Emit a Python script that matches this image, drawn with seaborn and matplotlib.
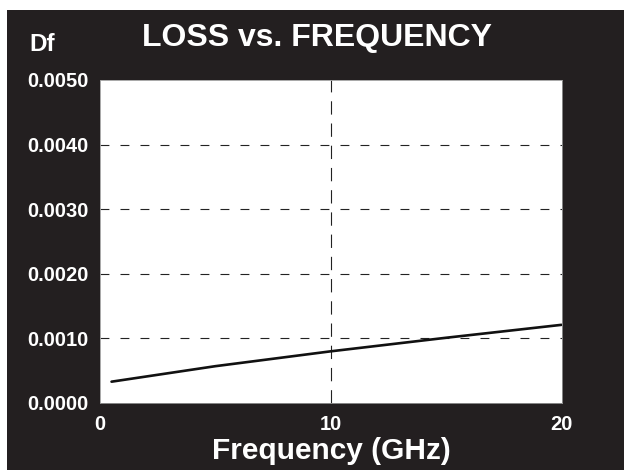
import pandas as pd
import seaborn as sns
import matplotlib.pyplot as plt
from matplotlib.patches import Rectangle

sns.set_theme(style="white")
plt.rcParams['font.family'] = ['Liberation Sans', 'DejaVu Sans']

# data
freq_ghz = [0.5, 5, 10, 15, 20]
df_loss = [0.00033, 0.00057, 0.00080, 0.00101, 0.00121]
y_ticks = [0.0, 0.001, 0.002, 0.003, 0.004, 0.005]
x_ticks = [0, 10, 20]

data = pd.DataFrame({"Frequency": freq_ghz, "Df": df_loss})

dark = "#231f20"
fig = plt.figure(figsize=(6.24, 4.70), dpi=100, facecolor="white")
fig.patches.append(Rectangle((7 / 624, 0), 1, 1 - 10 / 470, transform=fig.transFigure,
                             facecolor=dark, edgecolor="none", zorder=-10))

ax = fig.add_axes([100 / 624, 67 / 470, 461.5 / 624, 323 / 470])
ax.set_zorder(5)
ax.set_facecolor("white")

sns.lineplot(data=data, x="Frequency", y="Df", ax=ax, color="#111111", linewidth=1.9)

ax.set_xlim(0, 20)
ax.set_ylim(0, 0.005)
ax.set_xticks(x_ticks)
ax.set_yticks(y_ticks)
ax.set_xticklabels([str(t) for t in x_ticks])
ax.set_yticklabels([f"{t:.4f}" for t in y_ticks])
ax.tick_params(axis="both", colors="white", labelsize=14.5, length=0)
ax.tick_params(axis="y", pad=8)
ax.tick_params(axis="x", pad=9)
for lbl in ax.get_xticklabels() + ax.get_yticklabels():
    lbl.set_fontweight("bold")

# dashed grid lines (interior only)
for yv in y_ticks[1:-1]:
    ax.axhline(yv, color="#222222", linewidth=0.8, linestyle=(0, (8, 10)), zorder=1)
ax.axvline(10, color="#222222", linewidth=0.8, linestyle=(0, (12, 8)), zorder=1)

for s in ax.spines.values():
    s.set_color("#999999")
    s.set_linewidth(0.6)

ax.set_xlabel("")
ax.set_ylabel("")

fig.text(331 / 624, 1 - 459 / 470, "Frequency (GHz)", color="white", fontsize=21.5,
         fontweight="bold", ha="center", va="baseline")
fig.text(317 / 624, 1 - 46 / 470, "LOSS vs. FREQUENCY", color="white", fontsize=23,
         fontweight="bold", ha="center", va="baseline")
fig.text(29 / 624, 1 - 51 / 470, "Df", color="white", fontsize=17.5,
         fontweight="bold", ha="left", va="baseline")

fig.savefig("out.png", dpi=100, facecolor=fig.get_facecolor())
